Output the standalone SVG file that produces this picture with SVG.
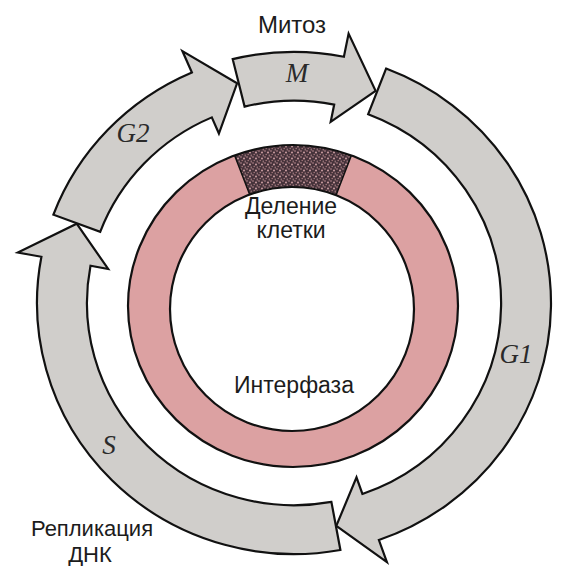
<svg xmlns="http://www.w3.org/2000/svg" width="568" height="566" viewBox="0 0 568 566">
<style>
.arrow{fill:#d0cecb;stroke:#111;stroke-width:2.2;stroke-linejoin:miter}
.lbl{font-family:"Liberation Sans",Arial,sans-serif;font-size:23px;fill:#1c1c1c;text-anchor:middle}
.ph{font-family:"Liberation Serif","Times New Roman",serif;font-style:italic;font-size:27px;fill:#2a2a2a;text-anchor:middle}
.edge{fill:none;stroke:#111;stroke-width:2.2}
</style>
<defs>
<pattern id="stip" width="6" height="6" patternUnits="userSpaceOnUse">
<rect width="6" height="6" fill="#45323a"/>
<circle cx="1" cy="1" r="0.8" fill="#c09095"/>
<circle cx="4" cy="2.5" r="0.9" fill="#d9a9ac"/>
<circle cx="2.2" cy="4.6" r="0.75" fill="#a97c80"/>
<circle cx="5.2" cy="5.2" r="0.6" fill="#cfa3a6"/>
<circle cx="5.2" cy="0.5" r="0.5" fill="#93696d"/>
</pattern>
<clipPath id="ringclip">
<path clip-rule="evenodd" d="M128,306 A165,161 0 1 1 458,306 A165,161 0 1 1 128,306 Z M170,309 A122,122 0 1 0 414,309 A122,122 0 1 0 170,309 Z"/>
</clipPath>
</defs>
<rect width="568" height="566" fill="#ffffff"/>

<g id="interphase-ring">
<path fill="#dca1a2" fill-rule="evenodd" d="M128,306 A165,161 0 1 1 458,306 A165,161 0 1 1 128,306 Z M170,309 A122,122 0 1 0 414,309 A122,122 0 1 0 170,309 Z"/>
<g id="division-sector" clip-path="url(#ringclip)">
<path fill="url(#stip)" stroke="#111" stroke-width="1.5" d="M293,307 L221,120 L365,120 Z"/>
</g>
<ellipse class="edge" cx="293" cy="306" rx="165" ry="161"/>
<circle class="edge" cx="292" cy="309" r="122"/>
</g>

<g id="phase-arrows" transform="translate(294,303) scale(1,0.977)">
<path id="arrow-G1" class="arrow" d="M92.1,-239.9 A257,257 0 0 1 84.9,242.6 L92.9,265.2 L42.3,228.1 L62.5,178.4 L68.4,195.4 A207,207 0 0 0 74.2,-193.3 Z"/>
<path id="arrow-S" class="arrow" d="M46.4,252.8 A257,257 0 0 1 -252.6,-47.3 L-276.2,-51.7 L-217.3,-81.2 L-185.8,-34.8 L-203.5,-38.1 A207,207 0 0 0 37.4,203.6 Z"/>
<path id="arrow-G2" class="arrow" d="M-240.6,-90.4 A257,257 0 0 1 -102.1,-235.9 L-111.6,-257.9 L-56.9,-224.9 L-75.1,-173.5 L-82.2,-190.0 A207,207 0 0 0 -193.8,-72.8 Z"/>
<path id="arrow-M" class="arrow" d="M-61.3,-249.6 A257,257 0 0 1 49.9,-252.1 L54.6,-275.7 L81.6,-217.2 L36.7,-185.4 L40.2,-203.1 A207,207 0 0 0 -49.4,-201.0 Z"/>
</g>

<g id="phase-labels">
<text class="ph" x="297" y="82">M</text>
<text class="ph" x="516" y="363">G1</text>
<text class="ph" x="109" y="454">S</text>
<text class="ph" x="133" y="142">G2</text>
</g>

<g id="captions">
<text class="lbl" x="292" y="33" style="font-size:24px">Митоз</text>
<text class="lbl" x="291" y="214">Деление</text>
<text class="lbl" x="291" y="238">клетки</text>
<text class="lbl" x="294" y="393">Интерфаза</text>
<text class="lbl" x="92" y="536" style="font-size:22px">Репликация</text>
<text class="lbl" x="90" y="562" style="font-size:22px">ДНК</text>
</g>
</svg>
